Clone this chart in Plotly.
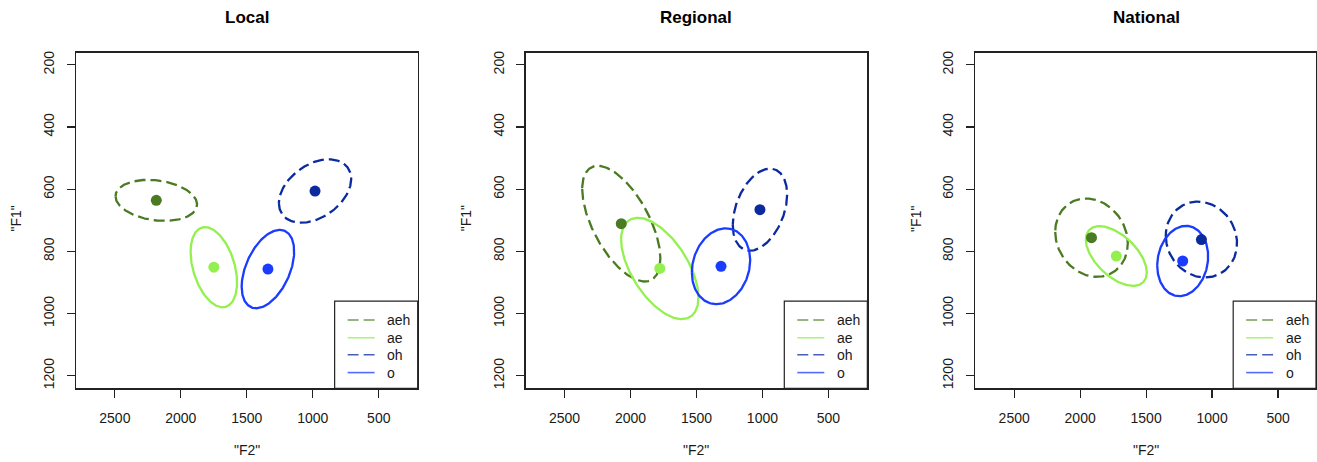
import numpy as np
import plotly.graph_objects as go

# ---------------- data ----------------
panels = ["Local", "Regional", "National"]
vowels = ["aeh", "ae", "oh", "o"]
colors = ["#4a7b22", "#93f04e", "#0a2a9e", "#1a3cff"]
dashes = ["11px,5px", "solid", "11px,5px", "solid"]

# centroids (F2, F1) per panel, in vowel order
f2_mean = {
    "Local":    [2186, 1750, 983, 1340],
    "Regional": [2070, 1778, 1019, 1314],
    "National": [1914, 1726, 1081, 1223],
}
f1_mean = {
    "Local":    [636, 851, 606, 857],
    "Regional": [711, 855, 666, 848],
    "National": [756, 815, 762, 831],
}
# ellipse half-extents along F2 / F1 and F2-F1 correlation
f2_half = {
    "Local":    [309, 176, 274, 199],
    "Regional": [296, 293, 206, 221],
    "National": [275, 231, 270, 193],
}
f1_half = {
    "Local":    [66, 129, 102, 126],
    "Regional": [186, 163, 132, 122],
    "National": [126, 96, 122, 113],
}
corr = {
    "Local":    [-0.2, -0.38, 0.38, 0.45],
    "Regional": [-0.6, -0.57, 0.37, 0.16],
    "National": [-0.15, -0.55, -0.1, 0.13],
}

x_ticks = [2500, 2000, 1500, 1000, 500]
y_ticks = [200, 400, 600, 800, 1000, 1200]

# ---------------- layout geometry ----------------
W, H = 1317, 462
box_left = [76, 526, 976]
box_w = 342
box_top, box_bot = 51, 389
x_range = [2795, 205]
y_range = [1241, 161]
FONT = "Liberation Sans, Arial, Helvetica, sans-serif"
TXT = "#1a1a1a"

fig = go.Figure()
tt = np.linspace(0, 2 * np.pi, 240)

shapes = []
annotations = []

for i, p in enumerate(panels):
    xa = "x" if i == 0 else f"x{i + 1}"
    ya = "y" if i == 0 else f"y{i + 1}"
    # ellipses
    for j, v in enumerate(vowels):
        cx, cy = f2_mean[p][j], f1_mean[p][j]
        sx, sy, r = f2_half[p][j], f1_half[p][j], corr[p][j]
        ex = cx + sx * np.cos(tt)
        ey = cy + sy * (r * np.cos(tt) + np.sqrt(1 - r * r) * np.sin(tt))
        fig.add_trace(go.Scatter(
            x=ex, y=ey, mode="lines",
            line=dict(color=colors[j], width=2.3, dash=dashes[j]),
            xaxis=xa, yaxis=ya, showlegend=False, hoverinfo="skip"))
    # centroids
    for j, v in enumerate(vowels):
        fig.add_trace(go.Scatter(
            x=[f2_mean[p][j]], y=[f1_mean[p][j]], mode="markers",
            marker=dict(color=colors[j], size=11, line=dict(width=0)),
            xaxis=xa, yaxis=ya, showlegend=False, name=v))

    x0 = box_left[i] / W
    x1 = min((box_left[i] + box_w) / W, 1.0)
    xr = list(x_range)
    if (box_left[i] + box_w) > W:
        xr[1] = x_range[1] + (x_range[0] - x_range[1]) / box_w * (box_left[i] + box_w - W)
    axis_common = dict(
        showgrid=False, zeroline=False, showline=True, mirror=True,
        linecolor="#222", linewidth=1.2, ticks="outside", ticklen=8,
        tickcolor="#222", tickwidth=1.2,
        tickfont=dict(family=FONT, size=14, color=TXT),
    )
    fig.layout[("xaxis" if i == 0 else f"xaxis{i + 1}")] = dict(
        domain=[x0, x1], range=xr, anchor=ya, ticklabelstandoff=9,
        tickvals=x_ticks, ticktext=[str(v) for v in x_ticks], **axis_common)
    fig.layout[("yaxis" if i == 0 else f"yaxis{i + 1}")] = dict(
        domain=[(H - box_bot) / H, (H - box_top) / H], range=y_range, anchor=xa,
        tickvals=y_ticks, ticktext=[str(v) for v in y_ticks], tickangle=-90,
        ticklabelstandoff=7, **axis_common)

    # titles
    cxp = (box_left[i] + box_w / 2) / W
    annotations.append(dict(
        text="<b>%s</b>" % p, x=cxp, y=1 - 16 / H, xref="paper", yref="paper",
        showarrow=False, xanchor="center", yanchor="middle",
        font=dict(family=FONT, size=17, color="#000")))
    annotations.append(dict(
        text='"F2"', x=cxp, y=1 - 451 / H, xref="paper", yref="paper",
        showarrow=False, xanchor="center", yanchor="middle",
        font=dict(family=FONT, size=14, color=TXT)))
    annotations.append(dict(
        text='"F1"', x=(box_left[i] - 60) / W, y=1 - 218 / H, xref="paper", yref="paper",
        showarrow=False, xanchor="center", yanchor="middle", textangle=-90,
        font=dict(family=FONT, size=14, color=TXT)))

    # legend box
    xd, yd = f"{xa} domain", f"{ya} domain"
    shapes.append(dict(type="rect", xref=xd, yref=yd, x0=0.757, x1=1.0, y0=0.0, y1=0.26,
                       line=dict(color="#222", width=1.2), fillcolor="white", layer="above"))
    rows = [0.204, 0.151, 0.1006, 0.0473]
    for j, v in enumerate(vowels):
        shapes.append(dict(type="line", xref=xd, yref=yd, x0=0.795, x1=0.874,
                           y0=rows[j], y1=rows[j], layer="above", opacity=0.75,
                           line=dict(color=colors[j], width=1.6,
                                     dash="11px,5px" if dashes[j] != "solid" else "solid")))
        annotations.append(dict(
            text=v, x=0.905, y=rows[j], xref=xd, yref=yd, showarrow=False,
            xanchor="left", yanchor="middle",
            font=dict(family=FONT, size=14, color=TXT)))

fig.update_layout(
    width=W, height=H, margin=dict(l=0, r=0, t=0, b=0),
    paper_bgcolor="white", plot_bgcolor="white",
    shapes=shapes, annotations=annotations, showlegend=False,
)

fig.write_html(
    "out.html",
    config={"displayModeBar": False, "staticPlot": True},
    post_script="document.body.style.margin='0';document.body.style.overflow='hidden';",
)
